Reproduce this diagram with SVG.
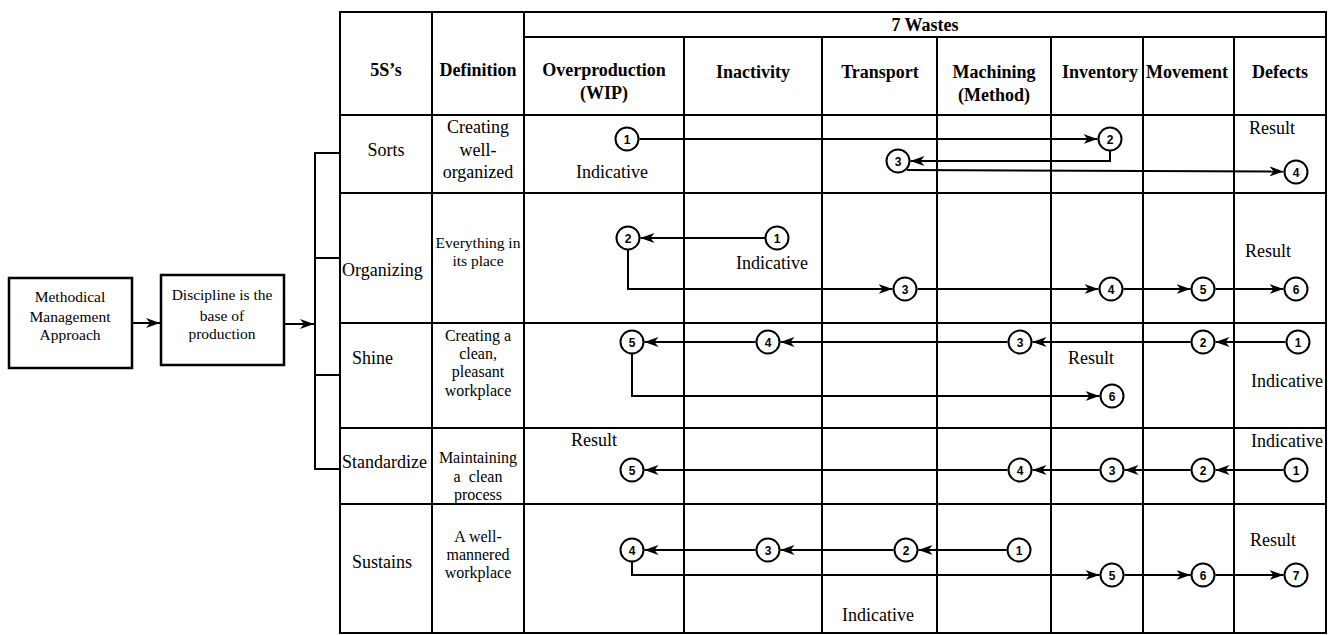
<svg xmlns="http://www.w3.org/2000/svg" width="1334" height="635" viewBox="0 0 1334 635">
<style>
.t{font-family:"Liberation Serif","Times New Roman",serif;fill:#000;text-anchor:middle}
.s18{font-size:18px}
.s16{font-size:16px}
.s15{font-size:15.5px}
.b{font-weight:bold;font-size:18px}
.st{text-anchor:start}
.tl{stroke:#000;stroke-width:2;fill:none}
.bx{stroke:#000;stroke-width:2.5;fill:#fff}
.cn{stroke:#000;stroke-width:2;fill:none}
.nd circle{stroke:#000;stroke-width:2;fill:#fff}
.nd text{font-family:"Liberation Sans",Arial,sans-serif;font-weight:bold;font-size:12px;text-anchor:middle;fill:#000}
</style>
<defs>
<marker id="ah" viewBox="0 0 14 10" refX="14" refY="5" markerWidth="14" markerHeight="10" orient="auto" markerUnits="userSpaceOnUse">
<path d="M0,0 L14,5 L0,10 L4,5 z" fill="#000"/>
</marker>
</defs>
<rect width="1334" height="635" fill="#fff"/>

<!-- Table -->
<g id="table">
<rect class="tl" x="340" y="12" width="986" height="621"/>
<path class="tl" d="M524,37 H1326 M340,115 H1326 M340,193 H1326 M340,323 H1326 M340,428 H1326 M340,504 H1326"/>
<path class="tl" d="M432,12 V633 M524,12 V633 M684,37 V633 M822,37 V633 M937,37 V633 M1051,37 V633 M1143,37 V633 M1234,37 V633"/>
<text class="t b" x="925" y="31">7 Wastes</text>
<text class="t b" x="386" y="76">5S’s</text>
<text class="t b" x="478" y="76">Definition</text>
<text class="t b" x="604" y="76">Overproduction</text>
<text class="t b" x="604" y="99">(WIP)</text>
<text class="t b" x="753" y="78">Inactivity</text>
<text class="t b" x="880" y="78">Transport</text>
<text class="t b" x="994" y="78">Machining</text>
<text class="t b" x="994" y="101">(Method)</text>
<text class="t b" x="1100" y="78">Inventory</text>
<text class="t b" x="1187" y="78">Movement</text>
<text class="t b" x="1280" y="78">Defects</text>

<text class="t s18" x="386" y="156">Sorts</text>
<text class="t s18 st" x="342" y="276">Organizing</text>
<text class="t s18 st" x="352" y="364">Shine</text>
<text class="t s18 st" x="342" y="468">Standardize</text>
<text class="t s18 st" x="352" y="568">Sustains</text>

<text class="t s18" x="478" y="133">Creating</text>
<text class="t s18" x="478" y="156">well-</text>
<text class="t s18" x="478" y="178">organized</text>
<text class="t s15" x="478" y="248">Everything in</text>
<text class="t s15" x="478" y="266">its place</text>
<text class="t s16" x="478" y="341">Creating a</text>
<text class="t s16" x="478" y="359">clean,</text>
<text class="t s16" x="478" y="377">pleasant</text>
<text class="t s16" x="478" y="396">workplace</text>
<text class="t s16" x="478" y="463">Maintaining</text>
<text class="t s16" x="478" y="482" word-spacing="4">a clean</text>
<text class="t s16" x="478" y="500">process</text>
<text class="t s16" x="478" y="542">A well-</text>
<text class="t s16" x="478" y="560">mannered</text>
<text class="t s16" x="478" y="578">workplace</text>

<text class="t s18" x="1272" y="134">Result</text>
<text class="t s18" x="612" y="178">Indicative</text>
<text class="t s18" x="772" y="269">Indicative</text>
<text class="t s18" x="1268" y="257">Result</text>
<text class="t s18" x="1091" y="364">Result</text>
<text class="t s18" x="1287" y="387">Indicative</text>
<text class="t s18" x="594" y="446">Result</text>
<text class="t s18" x="1287" y="447">Indicative</text>
<text class="t s18" x="1273" y="546">Result</text>
<text class="t s18" x="878" y="621">Indicative</text>
</g>

<!-- Left boxes -->
<g id="box-approach">
<rect class="bx" x="9" y="278" width="123" height="90"/>
<text class="t s15" x="70" y="302">Methodical</text>
<text class="t s15" x="70" y="322">Management</text>
<text class="t s15" x="70" y="340">Approach</text>
</g>
<g id="box-discipline">
<rect class="bx" x="161" y="275" width="123" height="90"/>
<text class="t s15" x="222" y="300">Discipline is the</text>
<text class="t s15" x="222" y="321">base of</text>
<text class="t s15" x="222" y="339">production</text>
</g>

<!-- Connectors -->
<g id="connectors">
<path class="cn" d="M132,323 H160" marker-end="url(#ah)"/>
<path class="cn" d="M284,324 H314" marker-end="url(#ah)"/>
<path class="cn" d="M340,153 H315 V469 H340 M315,258 H340 M315,375 H340"/>

<!-- Sorts -->
<path class="cn" d="M639.5,139 H1097.5" marker-end="url(#ah)"/>
<path class="cn" d="M1110,150.5 V161 H910.5" marker-end="url(#ah)"/>
<path class="cn" d="M907,170 L1283.5,171.5" marker-end="url(#ah)"/>
<!-- Organizing -->
<path class="cn" d="M765,238 H640.5" marker-end="url(#ah)"/>
<path class="cn" d="M628,249.5 V289 H892.5" marker-end="url(#ah)"/>
<path class="cn" d="M917.5,289 H1098.5" marker-end="url(#ah)"/>
<path class="cn" d="M1123.5,289 H1190.5" marker-end="url(#ah)"/>
<path class="cn" d="M1215.5,289 H1283.5" marker-end="url(#ah)"/>
<!-- Shine -->
<path class="cn" d="M1285.5,342 H1215.5" marker-end="url(#ah)"/>
<path class="cn" d="M1190.5,342 H1032.5" marker-end="url(#ah)"/>
<path class="cn" d="M1007.5,342 H780.5" marker-end="url(#ah)"/>
<path class="cn" d="M755.5,342 H644.5" marker-end="url(#ah)"/>
<path class="cn" d="M632,353.5 V396 H1099.5" marker-end="url(#ah)"/>
<!-- Standardize -->
<path class="cn" d="M1283.5,470 H1215.5" marker-end="url(#ah)"/>
<path class="cn" d="M1190.5,470 H1124.5" marker-end="url(#ah)"/>
<path class="cn" d="M1099.5,470 H1032.5" marker-end="url(#ah)"/>
<path class="cn" d="M1007.5,470 H644.5" marker-end="url(#ah)"/>
<!-- Sustains -->
<path class="cn" d="M1006.5,550 H918.5" marker-end="url(#ah)"/>
<path class="cn" d="M893.5,550 H780.5" marker-end="url(#ah)"/>
<path class="cn" d="M755.5,550 H644.5" marker-end="url(#ah)"/>
<path class="cn" d="M632,561.5 V575 H1099.5" marker-end="url(#ah)"/>
<path class="cn" d="M1124.5,575 H1190.5" marker-end="url(#ah)"/>
<path class="cn" d="M1215.5,575 H1283.5" marker-end="url(#ah)"/>
</g>

<!-- Nodes: Sorts -->
<g id="sorts-1" class="nd"><circle cx="627" cy="139" r="11.5"/><text x="627" y="143.5">1</text></g>
<g id="sorts-2" class="nd"><circle cx="1110" cy="139" r="11.5"/><text x="1110" y="143.5">2</text></g>
<g id="sorts-3" class="nd"><circle cx="898" cy="161" r="11.5"/><text x="898" y="165.5">3</text></g>
<g id="sorts-4" class="nd"><circle cx="1296" cy="172" r="11.5"/><text x="1296" y="176.5">4</text></g>
<!-- Organizing -->
<g id="org-1" class="nd"><circle cx="777" cy="238" r="11.5"/><text x="777" y="242.5">1</text></g>
<g id="org-2" class="nd"><circle cx="628" cy="238" r="11.5"/><text x="628" y="242.5">2</text></g>
<g id="org-3" class="nd"><circle cx="905" cy="289" r="11.5"/><text x="905" y="293.5">3</text></g>
<g id="org-4" class="nd"><circle cx="1111" cy="289" r="11.5"/><text x="1111" y="293.5">4</text></g>
<g id="org-5" class="nd"><circle cx="1203" cy="289" r="11.5"/><text x="1203" y="293.5">5</text></g>
<g id="org-6" class="nd"><circle cx="1296" cy="289" r="11.5"/><text x="1296" y="293.5">6</text></g>
<!-- Shine -->
<g id="shine-1" class="nd"><circle cx="1298" cy="342" r="11.5"/><text x="1298" y="346.5">1</text></g>
<g id="shine-2" class="nd"><circle cx="1203" cy="342" r="11.5"/><text x="1203" y="346.5">2</text></g>
<g id="shine-3" class="nd"><circle cx="1020" cy="342" r="11.5"/><text x="1020" y="346.5">3</text></g>
<g id="shine-4" class="nd"><circle cx="768" cy="342" r="11.5"/><text x="768" y="346.5">4</text></g>
<g id="shine-5" class="nd"><circle cx="632" cy="342" r="11.5"/><text x="632" y="346.5">5</text></g>
<g id="shine-6" class="nd"><circle cx="1112" cy="396" r="11.5"/><text x="1112" y="400.5">6</text></g>
<!-- Standardize -->
<g id="std-1" class="nd"><circle cx="1296" cy="470" r="11.5"/><text x="1296" y="474.5">1</text></g>
<g id="std-2" class="nd"><circle cx="1203" cy="470" r="11.5"/><text x="1203" y="474.5">2</text></g>
<g id="std-3" class="nd"><circle cx="1112" cy="470" r="11.5"/><text x="1112" y="474.5">3</text></g>
<g id="std-4" class="nd"><circle cx="1020" cy="470" r="11.5"/><text x="1020" y="474.5">4</text></g>
<g id="std-5" class="nd"><circle cx="632" cy="470" r="11.5"/><text x="632" y="474.5">5</text></g>
<!-- Sustains -->
<g id="sus-1" class="nd"><circle cx="1019" cy="550" r="11.5"/><text x="1019" y="554.5">1</text></g>
<g id="sus-2" class="nd"><circle cx="906" cy="550" r="11.5"/><text x="906" y="554.5">2</text></g>
<g id="sus-3" class="nd"><circle cx="768" cy="550" r="11.5"/><text x="768" y="554.5">3</text></g>
<g id="sus-4" class="nd"><circle cx="632" cy="550" r="11.5"/><text x="632" y="554.5">4</text></g>
<g id="sus-5" class="nd"><circle cx="1112" cy="575" r="11.5"/><text x="1112" y="579.5">5</text></g>
<g id="sus-6" class="nd"><circle cx="1203" cy="575" r="11.5"/><text x="1203" y="579.5">6</text></g>
<g id="sus-7" class="nd"><circle cx="1296" cy="575" r="11.5"/><text x="1296" y="579.5">7</text></g>
</svg>
